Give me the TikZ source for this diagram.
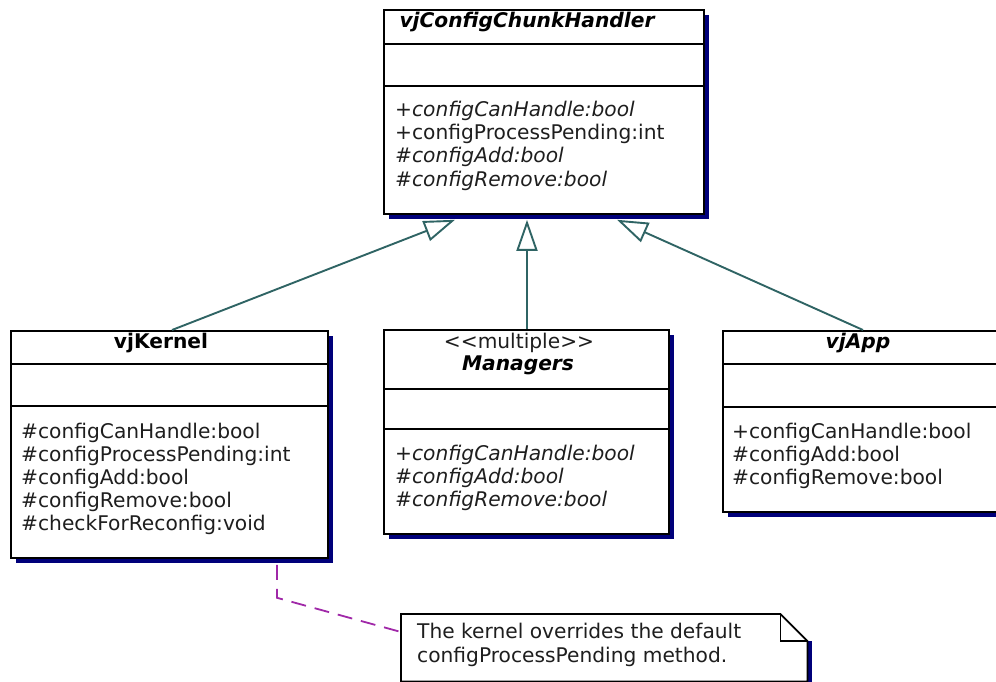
\documentclass[tikz,border=0pt]{standalone}
\usepackage{fontspec}
\setmainfont{DejaVu Sans}
\usetikzlibrary{arrows.meta,shadows}

\definecolor{shadownavy}{HTML}{00007A}
\definecolor{inhteal}{HTML}{2F6464}
\definecolor{notepurple}{HTML}{A028A8}
\definecolor{txt}{HTML}{1E1E1E}

\begin{document}
\begin{tikzpicture}[x=1pt,y=-1pt,
  classbox/.style={draw=black, line width=1.8pt, fill=white, inner sep=0pt,
    anchor=north west,
    general shadow={fill=shadownavy, shadow xshift=5pt, shadow yshift=-5pt}},
  sepline/.style={draw=black, line width=1.5pt},
  member/.style={anchor=base west, inner sep=0pt, text=txt,
    font=\fontsize{20.2}{23}\selectfont},
  title/.style={anchor=base, inner sep=0pt, text=black,
    font=\fontsize{20.2}{23}\selectfont\bfseries},
  stereo/.style={anchor=base, inner sep=0pt, text=txt,
    font=\fontsize{20.2}{23}\selectfont},
  inherit/.style={draw=inhteal, line width=1.9pt,
    -{Triangle[fill=white, length=31pt, width=21pt, line width=1.9pt]}},
  notelink/.style={draw=notepurple, line width=1.8pt, dash pattern=on 15pt off 9pt},
]
\useasboundingbox (0,0) rectangle (996,682);

% ---------- classes ----------
\node[classbox, minimum width=320pt, minimum height=204pt] (base) at (383,9) {};
\draw[sepline] ([yshift=-35pt]base.north west) -- ([yshift=-35pt]base.north east);
\draw[sepline] ([yshift=-77pt]base.north west) -- ([yshift=-77pt]base.north east);
\node[title] (base-t) at (527,28) {\itshape vjConfigChunkHandler};
\node[member] (base-m1) at (395,117) {\itshape +configCanHandle:bool};
\node[member] (base-m2) at (395,140) {+configProcessPending:int};
\node[member] (base-m3) at (395,163) {\itshape \#configAdd:bool};
\node[member] (base-m4) at (395,186) {\itshape \#configRemove:bool};

\node[classbox, minimum width=317pt, minimum height=227pt] (kernel) at (10,330) {};
\draw[sepline] ([yshift=-34pt]kernel.north west) -- ([yshift=-34pt]kernel.north east);
\draw[sepline] ([yshift=-76pt]kernel.north west) -- ([yshift=-76pt]kernel.north east);
\node[title] (kernel-t) at (161,348) {vjKernel};
\node[member] (kernel-m1) at (21,438) {\#configCanHandle:bool};
\node[member] (kernel-m2) at (21,461) {\#configProcessPending:int};
\node[member] (kernel-m3) at (21,484) {\#configAdd:bool};
\node[member] (kernel-m4) at (21,507) {\#configRemove:bool};
\node[member] (kernel-m5) at (21,530) {\#checkForReconfig:void};

\node[classbox, minimum width=285pt, minimum height=204pt] (mgr) at (383,329) {};
\draw[sepline] ([yshift=-60pt]mgr.north west) -- ([yshift=-60pt]mgr.north east);
\draw[sepline] ([yshift=-100pt]mgr.north west) -- ([yshift=-100pt]mgr.north east);
\node[stereo] (mgr-s) at (519,348) {{<}{<}multiple{>}{>}};
\node[title] (mgr-t) at (518,370) {\itshape Managers};
\node[member] (mgr-m1) at (395,460) {\itshape +configCanHandle:bool};
\node[member] (mgr-m2) at (395,483) {\itshape \#configAdd:bool};
\node[member] (mgr-m3) at (395,506) {\itshape \#configRemove:bool};

\node[classbox, minimum width=286pt, minimum height=181pt] (app) at (722,330) {};
\draw[sepline] ([yshift=-34pt]app.north west) -- ([yshift=-34pt]app.north east);
\draw[sepline] ([yshift=-77pt]app.north west) -- ([yshift=-77pt]app.north east);
\node[title] (app-t) at (858,348) {\itshape vjApp};
\node[member] (app-m1) at (732,438) {+configCanHandle:bool};
\node[member] (app-m2) at (732,461) {\#configAdd:bool};
\node[member] (app-m3) at (732,484) {\#configRemove:bool};

% ---------- generalisations ----------
\draw[inherit] ([xshift=162pt]kernel.north west) -- ([xshift=72pt,yshift=-5pt]base.south west);
\draw[inherit] ([xshift=144pt]mgr.north west) -- ([xshift=144pt,yshift=-5pt]base.south west);
\draw[inherit] ([xshift=141pt]app.north west) -- ([xshift=234pt,yshift=-5pt]base.south west);

% ---------- note ----------
\node[inner sep=0pt, minimum width=406pt, minimum height=67pt, anchor=north west] (note) at (401,614) {};
\fill[shadownavy] ([xshift=-0.6pt,yshift=-27pt]note.north east) rectangle ([xshift=5pt,yshift=-6pt]note.south east);
\filldraw[draw=black, fill=white, line width=1.8pt, line join=miter]
  (note.north west) -- ([xshift=-27pt]note.north east) -- ([yshift=-27pt]note.north east)
  -- (note.south east) -- (note.south west) -- cycle;
\draw[black, line width=1.5pt]
  ([xshift=-27pt]note.north east) -- ([xshift=-27pt,yshift=-27pt]note.north east)
  -- ([yshift=-27pt]note.north east);
\node[member] (note-l1) at (417,638) {The kernel overrides the default};
\node[member] (note-l2) at (417,662) {configProcessPending method.};

\draw[notelink] ([xshift=267pt,yshift=-6pt]kernel.south west) -- ++(0,33)
  -- ([yshift=-18pt]note.north west);
\end{tikzpicture}
\end{document}
